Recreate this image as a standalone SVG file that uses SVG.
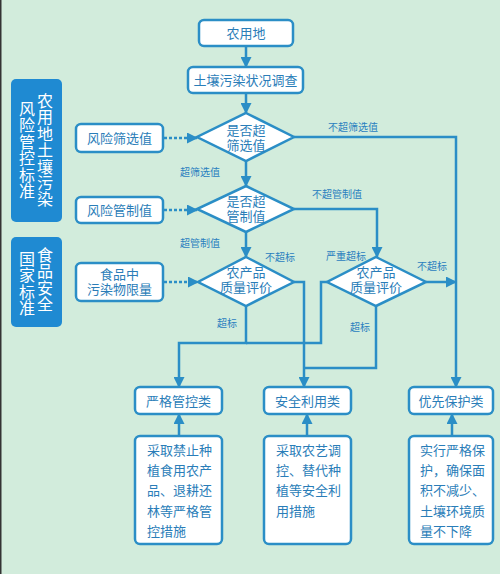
<svg xmlns="http://www.w3.org/2000/svg" width="500" height="574" viewBox="0 0 500 574">
<style>
.bg{fill:#d2ecdc}
.box{fill:#ffffff;stroke:#2b8ec6;stroke-width:2.5}
.dia{fill:#ffffff;stroke:#2b8ec6;stroke-width:2.5;stroke-linejoin:miter}
.blk{fill:#1f8ad2}
.t{font-family:"Noto Sans CJK SC","Noto Sans",sans-serif;font-size:13px;fill:#2a7db8;text-anchor:middle}
.t2{font-family:"Liberation Sans","Noto Sans CJK SC",sans-serif;font-size:13px;fill:#2a7db8;text-anchor:middle}
.tl{font-family:"Noto Sans CJK SC","Noto Sans",sans-serif;font-size:13px;fill:#2a7db8}
.v{font-family:"Noto Sans CJK SC","Noto Sans",sans-serif;font-size:16px;fill:#ffffff;writing-mode:vertical-rl;letter-spacing:0.4px}
.lbl{font-family:"Noto Sans CJK SC","Noto Sans",sans-serif;font-size:10px;fill:#2a80bf;text-anchor:middle}
.ln{fill:none;stroke:#2b8ec6;stroke-width:2.5}
.dot{fill:none;stroke:#2b8ec6;stroke-width:2.5;stroke-dasharray:3 2}
</style>
<defs>
<marker id="ah" markerUnits="userSpaceOnUse" markerWidth="11" markerHeight="11" refX="10" refY="5.5" orient="auto">
<path d="M0,0 L11,5.5 L0,11 z" fill="#2b8ec6"/>
</marker>
</defs>
<rect class="bg" x="0" y="0" width="500" height="574"/>
<rect x="0" y="0" width="1.5" height="574" fill="#333333"/>

<g id="std1">
<rect class="blk" x="11" y="79" width="51" height="143" rx="5"/>
<text class="v" x="45" y="93">农用地土壤污染</text>
<text class="v" x="27" y="101">风险管控标准</text>
</g>
<g id="std2">
<rect class="blk" x="11" y="237" width="51" height="90" rx="5"/>
<text class="v" x="45" y="247">食品安全</text>
<text class="v" x="27" y="251">国家标准</text>
</g>

<g id="connectors">
<path class="ln" d="M246,46 V67" marker-end="url(#ah)"/>
<path class="ln" d="M246,93 V113" marker-end="url(#ah)"/>
<path class="ln" d="M246,161 V186" marker-end="url(#ah)"/>
<path class="ln" d="M294,137 H456 V387" marker-end="url(#ah)"/>
<path class="ln" d="M246,232 V257" marker-end="url(#ah)"/>
<path class="ln" d="M294,209 H377 V257" marker-end="url(#ah)"/>
<path class="ln" d="M294,282 H304 V387" marker-end="url(#ah)"/>
<path class="ln" d="M246,306 V343 H179 V387" marker-end="url(#ah)"/>
<path class="ln" d="M327,282 H321 V343 H246"/>
<path class="ln" d="M376,306 V368 H304"/>
<path class="ln" d="M426,282 H456" marker-end="url(#ah)"/>
<path class="ln" d="M179,436 V414" marker-end="url(#ah)"/>
<path class="ln" d="M307,436 V414" marker-end="url(#ah)"/>
<path class="ln" d="M452,436 V414" marker-end="url(#ah)"/>
<path class="dot" d="M164,138 H197" marker-end="url(#ah)"/>
<path class="dot" d="M164,210 H197" marker-end="url(#ah)"/>
<path class="dot" d="M164,282 H198" marker-end="url(#ah)"/>
<text class="lbl" x="200" y="175.5">超筛选值</text>
<text class="lbl" x="353" y="130.5">不超筛选值</text>
<text class="lbl" x="200" y="246.5">超管制值</text>
<text class="lbl" x="337" y="197.5">不超管制值</text>
<text class="lbl" x="280" y="260.5">不超标</text>
<text class="lbl" x="227" y="326.5">超标</text>
<text class="lbl" x="346" y="259.5">严重超标</text>
<text class="lbl" x="360" y="330.5">超标</text>
<text class="lbl" x="432" y="269.5">不超标</text>
</g>

<g id="n-farmland">
<rect class="box" x="199" y="20" width="94" height="26" rx="5"/>
<text class="t" x="246" y="37.5">农用地</text>
</g>
<g id="n-survey">
<rect class="box" x="188" y="67" width="115" height="26" rx="5"/>
<text class="t" x="245.5" y="84.5">土壤污染状况调查</text>
</g>
<g id="d-screen">
<polygon class="dia" points="246,113 294,137 246,161 197,137"/>
<text class="t2" x="246" y="135"><tspan x="246" dy="0">是否超</tspan><tspan x="246" dy="14.6">筛选值</tspan></text>
</g>
<g id="d-control">
<polygon class="dia" points="246,186 294,209 246,232 197,209"/>
<text class="t2" x="246" y="206"><tspan x="246" dy="0">是否超</tspan><tspan x="246" dy="14.6">管制值</tspan></text>
</g>
<g id="d-quality1">
<polygon class="dia" points="246,257 294,282 246,306 198,282"/>
<text class="t2" x="246" y="277"><tspan x="246" dy="0">农产品</tspan><tspan x="246" dy="14.6">质量评价</tspan></text>
</g>
<g id="d-quality2">
<polygon class="dia" points="376,257 426,282 376,306 327,282"/>
<text class="t2" x="376" y="277"><tspan x="376" dy="0">农产品</tspan><tspan x="376" dy="14.6">质量评价</tspan></text>
</g>
<g id="n-screen">
<rect class="box" x="76" y="124" width="87" height="28" rx="5"/>
<text class="t" x="119.5" y="142.5">风险筛选值</text>
</g>
<g id="n-control">
<rect class="box" x="76" y="197" width="87" height="26" rx="5"/>
<text class="t" x="119.5" y="215">风险管制值</text>
</g>
<g id="n-food">
<rect class="box" x="76" y="263" width="87" height="38" rx="5"/>
<text class="t2" x="119.5" y="279"><tspan x="119.5" dy="0">食品中</tspan><tspan x="119.5" dy="14.6">污染物限量</tspan></text>
</g>
<g id="n-strict">
<rect class="box" x="135" y="387" width="87" height="27" rx="5"/>
<text class="t" x="178.5" y="406">严格管控类</text>
</g>
<g id="n-safe">
<rect class="box" x="264" y="387" width="87" height="27" rx="5"/>
<text class="t" x="307.5" y="406">安全利用类</text>
</g>
<g id="n-priority">
<rect class="box" x="409" y="387" width="84" height="27" rx="5"/>
<text class="t" x="451" y="406">优先保护类</text>
</g>
<g id="n-strict-desc">
<rect class="box" x="135" y="436" width="87" height="108" rx="5"/>
<text class="tl" x="147" y="454.5"><tspan x="147" dy="0">采取禁止种</tspan><tspan x="147" dy="20.4">植食用农产</tspan><tspan x="147" dy="20.4">品、退耕还</tspan><tspan x="147" dy="20.4">林等严格管</tspan><tspan x="147" dy="20.4">控措施</tspan></text>
</g>
<g id="n-safe-desc">
<rect class="box" x="264" y="436" width="87" height="108" rx="5"/>
<text class="tl" x="276" y="454.5"><tspan x="276" dy="0">采取农艺调</tspan><tspan x="276" dy="20.4">控、替代种</tspan><tspan x="276" dy="20.4">植等安全利</tspan><tspan x="276" dy="20.4">用措施</tspan></text>
</g>
<g id="n-priority-desc">
<rect class="box" x="409" y="436" width="84" height="108" rx="5"/>
<text class="tl" x="420" y="454.5"><tspan x="420" dy="0">实行严格保</tspan><tspan x="420" dy="20.4">护，确保面</tspan><tspan x="420" dy="20.4">积不减少、</tspan><tspan x="420" dy="20.4">土壤环境质</tspan><tspan x="420" dy="20.4">量不下降</tspan></text>
</g>
</svg>
